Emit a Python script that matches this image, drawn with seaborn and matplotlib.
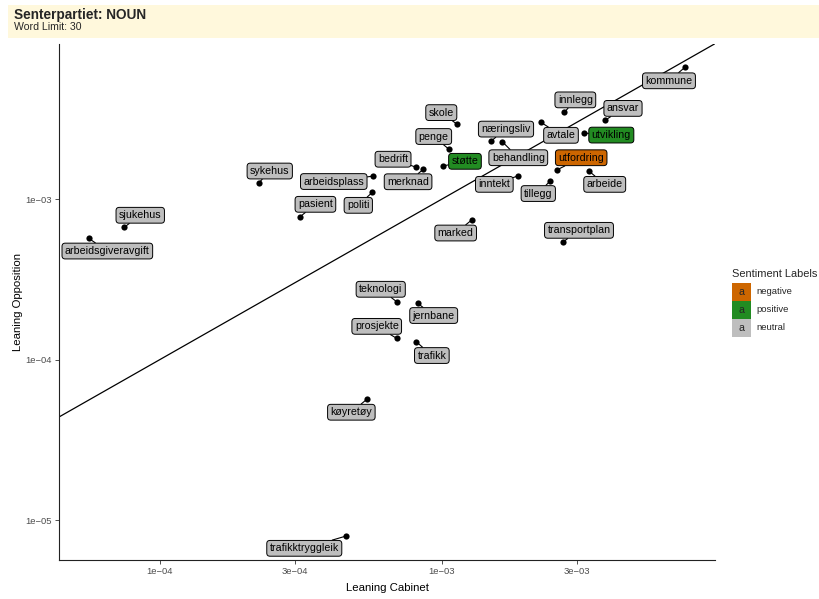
import numpy as np
import pandas as pd
import matplotlib
matplotlib.use("Agg")
import matplotlib.pyplot as plt
from matplotlib.patches import Rectangle
import seaborn as sns

# ---- data -------------------------------------------------------------
words = ["kommune", "innlegg", "ansvar", "næringsliv", "avtale", "utvikling",
         "behandling", "utfordring", "inntekt", "tillegg", "arbeide", "støtte",
         "skole", "penge", "bedrift", "merknad", "arbeidsplass", "politi",
         "pasient", "sykehus", "sjukehus", "arbeidsgiveravgift", "marked",
         "transportplan", "teknologi", "jernbane", "prosjekte", "trafikk",
         "køyretøy", "trafikktryggleik"]
cabinet = [0.00727, 0.002715, 0.003784, 0.001492, 0.002244, 0.003196,
           0.001636, 0.002551, 0.001865, 0.002409, 0.003321, 0.001008,
           0.001133, 0.001059, 0.000811, 0.000859, 0.000571, 0.000566,
           0.000314, 0.000224, 7.47e-05, 5.59e-05, 0.001274,
           0.002692, 0.000691, 0.000820, 0.000691, 0.000811,
           0.000541, 0.000457]
opposition = [0.00662, 0.003467, 0.003090, 0.002296, 0.003007, 0.002576,
              0.002276, 0.001516, 0.001397, 0.001289, 0.001494, 0.001606,
              0.002917, 0.002041, 0.001576, 0.001531, 0.001391, 0.001101,
              0.000776, 0.001258, 0.000667, 0.000569, 0.000740,
              0.000542, 0.000229, 0.000224, 0.0001355, 0.0001291,
              5.65e-05, 7.95e-06]
sentiment = ["neutral", "neutral", "neutral", "neutral", "neutral", "positive",
             "neutral", "negative", "neutral", "neutral", "neutral", "positive",
             "neutral", "neutral", "neutral", "neutral", "neutral", "neutral",
             "neutral", "neutral", "neutral", "neutral", "neutral",
             "neutral", "neutral", "neutral", "neutral", "neutral",
             "neutral", "neutral"]
sentiment_levels = ["negative", "positive", "neutral"]
x_ticks = [1e-4, 3e-4, 1e-3, 3e-3]
y_ticks = [1e-5, 1e-4, 1e-3]

# ---- styling ----------------------------------------------------------
palette = {"negative": "#CD6600", "positive": "#228B22", "neutral": "#BEBEBE"}

# repelled label placement (pixel offsets from each point)
label_offsets = {
    "kommune": (-16, -13.5), "innlegg": (11, 12.5), "ansvar": (18, 12),
    "næringsliv": (15, 12), "avtale": (20, -13), "utvikling": (27, -2),
    "behandling": (16, -16), "utfordring": (24.5, 12.3), "inntekt": (-24, -8.6),
    "tillegg": (-11.4, -12.2), "arbeide": (15.7, -13.3), "støtte": (22, 4.7),
    "skole": (-16, 11.8), "penge": (-15.3, 12.8), "bedrift": (-23.3, 8.1),
    "merknad": (-15.3, -12.4), "arbeidsplass": (-39.6, -5.5),
    "politi": (-14, -13), "pasient": (15.3, 12.4), "sykehus": (11, 12),
    "sjukehus": (16, 12), "arbeidsgiveravgift": (18.6, -12.7),
    "marked": (-16, -13), "transportplan": (15.7, 11.4),
    "teknologi": (-16, 12.5), "jernbane": (16, -12.2),
    "prosjekte": (-20, 12), "trafikk": (15.5, -13.8),
    "køyretøy": (-15.4, -12.9), "trafikktryggleik": (-41.8, -12.3),
}

df = pd.DataFrame({"word": words, "cabinet": cabinet,
                   "opposition": opposition, "sentiment": sentiment})

sns.set_theme(style="white")
plt.rcParams["font.family"] = ["Liberation Sans", "DejaVu Sans"]
plt.rcParams["axes.unicode_minus"] = True

W, H = 819, 599
fig = plt.figure(figsize=(W / 100, H / 100), dpi=100)
fig.patch.set_facecolor("white")

ax = fig.add_axes([59 / W, (H - 560) / H, 656 / W, 516 / H])
ax.set_facecolor("white")
ax.set_xscale("log")
ax.set_yscale("log")
ax.set_xlim(10 ** -4.358, 10 ** -2.032)
ax.set_ylim(10 ** -5.249, 10 ** -2.034)

# reference diagonal (equal usage)
ax.axline((1e-4, 1e-4), (1e-3, 1e-3), color="black", lw=0.9, zorder=1)

sns.scatterplot(data=df, x="cabinet", y="opposition", color="black",
                s=20, linewidth=0, ax=ax, legend=False, zorder=4)

for _, row in df.iterrows():
    dx, dy = label_offsets[row["word"]]
    ax.annotate(
        row["word"], xy=(row["cabinet"], row["opposition"]),
        xytext=(dx, dy), textcoords="offset pixels",
        ha="center", va="center", fontsize=7.7, color="black", zorder=5,
        bbox=dict(boxstyle="round,pad=0.27,rounding_size=0.3",
                  fc=palette[row["sentiment"]], ec="black", lw=0.7),
        arrowprops=dict(arrowstyle="-", color="black", lw=0.8,
                        shrinkA=0, shrinkB=0),
    )

ax.set_xticks(x_ticks)
ax.set_xticklabels(["1e\u221204", "3e\u221204", "1e\u221203", "3e\u221203"])
ax.set_yticks(y_ticks)
ax.set_yticklabels(["1e\u221205", "1e\u221204", "1e\u221203"])
ax.minorticks_off()
ax.tick_params(axis="both", which="major", length=3, width=0.6,
               color="#333333", labelcolor="#4D4D4D", labelsize=6.8, pad=2,
               bottom=True, left=True)
for side in ["top", "right"]:
    ax.spines[side].set_visible(False)
for side in ["left", "bottom"]:
    ax.spines[side].set_color("#222222")
    ax.spines[side].set_linewidth(0.8)

ax.set_xlabel("Leaning Cabinet", fontsize=8.2, color="black", labelpad=5)
ax.set_ylabel("Leaning Opposition", fontsize=8.2, color="black", labelpad=2)

# ---- title band -------------------------------------------------------
fig.patches.append(Rectangle((8 / W, (H - 38) / H), (W - 8) / W, 33 / H,
                             transform=fig.transFigure, fc="#FFF8DC",
                             ec="none", zorder=0))
fig.text(14 / W, (H - 18.5) / H, "Senterpartiet: NOUN", fontsize=9.8,
         fontweight="bold", va="baseline", ha="left")
fig.text(14 / W, (H - 29.5) / H, "Word Limit: 30", fontsize=7.6,
         va="baseline", ha="left")

# ---- legend -----------------------------------------------------------
fig.text(732 / W, (H - 276.7) / H, "Sentiment Labels", fontsize=7.9,
         va="baseline", ha="left")
key_top = 282.7
key_h = 18.1
for i, lvl in enumerate(sentiment_levels):
    top = key_top + i * key_h
    fig.patches.append(Rectangle((732 / W, (H - top - key_h) / H), 19 / W,
                                 key_h / H, transform=fig.transFigure,
                                 fc=palette[lvl], ec="none"))
    fig.text(741.5 / W, (H - top - key_h / 2) / H, "a", fontsize=7.7,
             ha="center", va="center")
    fig.text(756 / W, (H - top - key_h / 2) / H, lvl, fontsize=6.8,
             ha="left", va="center")

fig.savefig("out.png", dpi=100)
